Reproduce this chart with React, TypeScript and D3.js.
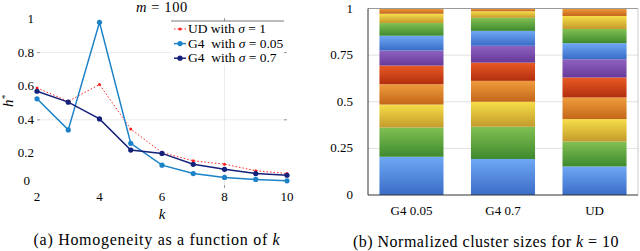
import React from 'react';
import * as d3 from 'd3';

// left panel: homogeneity h* vs k, m = 100
const ks = [2, 3, 4, 5, 6, 7, 8, 9, 10];
const udSigma1 = [0.59, 0.51, 0.61, 0.345, 0.205, 0.156, 0.136, 0.097, 0.08];
const g4Sigma005 = [0.525, 0.34, 0.98, 0.26, 0.13, 0.08, 0.057, 0.045, 0.037];
const g4Sigma07 = [0.57, 0.505, 0.405, 0.22, 0.2, 0.135, 0.105, 0.08, 0.07];
const xTicks = [2, 4, 6, 8, 10];
const yTicks = [0, 0.2, 0.4, 0.6, 0.8, 1];
const yGrid = [0.4, 0.8];
const xGrid = [8];

// right panel: normalized cluster sizes for k = 10 (bottom to top)
const categories = ['G4 0.05', 'G4 0.7', 'UD'];
const sizesG4005 = [0.205, 0.157, 0.123, 0.109, 0.1, 0.081, 0.079, 0.068, 0.05, 0.028];
const sizesG407 = [0.193, 0.173, 0.134, 0.112, 0.098, 0.09, 0.08, 0.07, 0.035, 0.015];
const sizesUD = [0.153, 0.134, 0.12, 0.116, 0.107, 0.098, 0.086, 0.076, 0.07, 0.04];
const barTicks = [0, 0.25, 0.5, 0.75, 1];
const clusterColors = [
  ['#6fa8f5', '#3a6cc6'],
  ['#82c052', '#3e8a2f'],
  ['#f6de48', '#c49a2c'],
  ['#ee9c3c', '#c4661a'],
  ['#e85a24', '#b22e0e'],
  ['#8e62c0', '#673a99'],
  ['#6fa8f5', '#3a6cc6'],
  ['#82c052', '#3e8a2f'],
  ['#f6de48', '#c49a2c'],
  ['#ee9c3c', '#c4661a'],
];

const serif = "'Liberation Serif', 'Times New Roman', serif";

function LineChart() {
  const x = d3.scaleLinear().domain([2, 10]).range([37, 287]);
  const y = d3.scaleLinear().domain([0, 1]).range([187, 19]);
  const line = d3.line<number>().x((d, i) => x(ks[i])).y(d => y(d));

  const series = [
    { name: 'UD', values: udSigma1, color: '#ff2020', dash: '1.5,2', width: 1, r: 1.5 },
    { name: 'G4 0.05', values: g4Sigma005, color: '#1c82c8', dash: null, width: 1.5, r: 2.6 },
    { name: 'G4 0.7', values: g4Sigma07, color: '#14217a', dash: null, width: 1.5, r: 2.6 },
  ];
  const legendLabels = [
    <>UD with <tspan fontStyle="italic">σ</tspan> = 1</>,
    <>G4  with <tspan fontStyle="italic">σ</tspan> = 0.05</>,
    <>G4  with <tspan fontStyle="italic">σ</tspan> = 0.7</>,
  ];

  return (
    <g>
      {yGrid.map(v => (
        <g key={'gy' + v}>
          <line x1={x(2)} x2={x(10)} y1={y(v)} y2={y(v)} stroke="#e6e6e6" strokeWidth={0.8} />
          <line x1={x(2)} x2={x(2) + 3} y1={y(v)} y2={y(v)} stroke="#888" strokeWidth={0.8} />
          <line x1={x(10) - 3} x2={x(10)} y1={y(v)} y2={y(v)} stroke="#888" strokeWidth={0.8} />
        </g>
      ))}
      {xGrid.map(v => (
        <g key={'gx' + v}>
          <line x1={x(v)} x2={x(v)} y1={y(0)} y2={y(1)} stroke="#e6e6e6" strokeWidth={0.8} />
          <line x1={x(v)} x2={x(v)} y1={y(1) - 1} y2={y(1) + 2} stroke="#888" strokeWidth={0.8} />
          <line x1={x(v)} x2={x(v)} y1={y(0) - 2} y2={y(0) + 1} stroke="#888" strokeWidth={0.8} />
        </g>
      ))}
      {series.map(s => (
        <g key={s.name}>
          <path d={line(s.values) || ''} fill="none" stroke={s.color} strokeWidth={s.width}
            strokeDasharray={s.dash || undefined} />
          {s.values.map((v, i) => (
            <circle key={i} cx={x(ks[i])} cy={y(v)} r={s.r} fill={s.color} />
          ))}
        </g>
      ))}
      {yTicks.map(v => (
        <text key={'ty' + v} x={v === 0 ? 30 : 34} y={y(v) + (v === 0 ? -2 : 4)} textAnchor="end" fontSize={13}>{v}</text>
      ))}
      {xTicks.map(v => (
        <text key={'tx' + v} x={x(v)} y={201} textAnchor="middle" fontSize={13}>{v}</text>
      ))}
      <text x={162} y={219} textAnchor="middle" fontSize={15} fontStyle="italic">k</text>
      <text transform="translate(13,101) rotate(-90)" textAnchor="middle" fontSize={15} fontStyle="italic">h<tspan fontSize={9} dy={-5}>*</tspan></text>
      <text x={162} y={12} textAnchor="middle" fontSize={14.5} letterSpacing={0.6}><tspan fontStyle="italic">m</tspan> = 100</text>
      {/* legend */}
      <rect x={171} y={21} width={113} height={44} fill="white" />
      <line x1={171} x2={284} y1={21} y2={21} stroke="#555" strokeWidth={0.8} />
      {series.map((s, i) => {
        const ly = 29 + i * 14.6;
        return (
          <g key={'lg' + s.name}>
            <line x1={174} x2={186} y1={ly} y2={ly} stroke={s.color} strokeWidth={s.width}
              strokeDasharray={s.dash || undefined} />
            <circle cx={180} cy={ly} r={s.r} fill={s.color} />
            <text x={188} y={ly + 4} fontSize={13.5} style={{ whiteSpace: 'pre' }}>{legendLabels[i]}</text>
          </g>
        );
      })}
      <text x={157} y={245} textAnchor="middle" fontSize={16} letterSpacing={0.7}>
        (a) Homogeneity as a function of <tspan fontStyle="italic">k</tspan>
      </text>
    </g>
  );
}

function BarChart() {
  const x = d3.scaleBand().domain(categories).range([368, 638]).paddingInner(0.3).paddingOuter(0.125);
  const y = d3.scaleLinear().domain([0, 1]).range([195, 8.5]);
  const sizes = [sizesG4005, sizesG407, sizesUD];

  return (
    <g>
      <defs>
        {clusterColors.map((c, i) => (
          <linearGradient key={i} id={'grad' + i} x1="0" y1="0" x2="0" y2="1">
            <stop offset="0%" stopColor={c[0]} />
            <stop offset="100%" stopColor={c[1]} />
          </linearGradient>
        ))}
      </defs>
      {barTicks.filter(v => v > 0 && v < 1).map(v => (
        <line key={'g' + v} x1={368} x2={638} y1={y(v)} y2={y(v)} stroke="#d8d8d8" strokeWidth={0.8} />
      ))}
      {categories.map((cat, ci) => {
        const stacked = d3.cumsum(sizes[ci]);
        return (
          <g key={cat}>
            {sizes[ci].map((s, i) => {
              const top = stacked[i];
              const bottom = top - s;
              return (
                <rect key={i} x={x(cat)} width={x.bandwidth()} y={y(top)} height={y(bottom) - y(top)}
                  fill={`url(#grad${i})`} />
              );
            })}
          </g>
        );
      })}
      <line x1={368} x2={638} y1={y(1)} y2={y(1)} stroke="#999" strokeWidth={1} />
      <line x1={638} x2={638} y1={y(1)} y2={y(0)} stroke="#ccc" strokeWidth={1} />
      <line x1={368} x2={368} y1={y(1)} y2={y(0)} stroke="#333" strokeWidth={1} />
      <line x1={368} x2={638} y1={y(0)} y2={y(0)} stroke="#333" strokeWidth={1} />
      {barTicks.map(v => (
        <text key={'t' + v} x={353} y={y(v) + 4} textAnchor="end" fontSize={13}>{v}</text>
      ))}
      {categories.map(cat => (
        <text key={'c' + cat} x={(x(cat) || 0) + x.bandwidth() / 2} y={215} textAnchor="middle" fontSize={13}>{cat}</text>
      ))}
      <text x={486} y={247} textAnchor="middle" fontSize={16} letterSpacing={0.5}>
        (b) Normalized cluster sizes for <tspan fontStyle="italic">k</tspan> = 10
      </text>
    </g>
  );
}

export default function App() {
  return (
    <svg width={640} height={251}
      style={{ position: 'absolute', left: 0, top: 0, background: 'white', fontFamily: serif }}>
      <LineChart />
      <BarChart />
    </svg>
  );
}
